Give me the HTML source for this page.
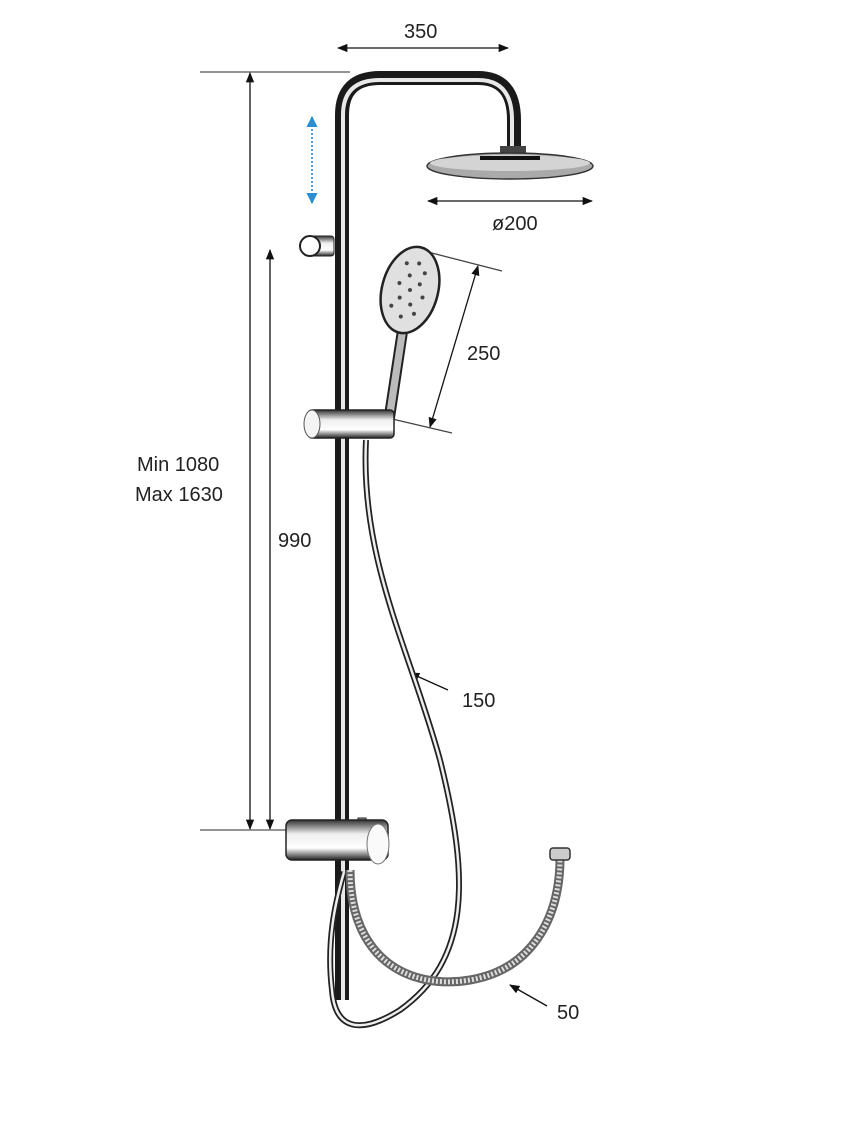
<!DOCTYPE html>
<html><head><meta charset="utf-8"><style>
html,body{margin:0;padding:0;background:#fff;}
svg{display:block;}
text{font-family:"Liberation Sans",sans-serif;font-size:20px;fill:#222;}
</style></head><body>
<svg width="867" height="1148" viewBox="0 0 867 1148" xmlns="http://www.w3.org/2000/svg">
<defs>
<marker id="a" viewBox="0 0 10 10" refX="9" refY="5" markerWidth="8" markerHeight="8" orient="auto-start-reverse"><path d="M0,1 L10,5 L0,9 z" fill="#111"/></marker>
<marker id="b" viewBox="0 0 10 10" refX="9" refY="5" markerWidth="7" markerHeight="7" orient="auto-start-reverse"><path d="M0,0 L10,5 L0,10 z" fill="#2a8fd0"/></marker>
<linearGradient id="cyl" x1="0" x2="0" y1="0" y2="1"><stop offset="0" stop-color="#333"/><stop offset="0.35" stop-color="#eee"/><stop offset="0.7" stop-color="#fff"/><stop offset="1" stop-color="#222"/></linearGradient>
</defs>
<g stroke="#111" stroke-width="1.3" fill="none">
<line x1="338" y1="48" x2="508" y2="48" marker-start="url(#a)" marker-end="url(#a)"/>
<line x1="200" y1="72" x2="350" y2="72" stroke="#555"/>
<line x1="250" y1="73" x2="250" y2="829" marker-start="url(#a)" marker-end="url(#a)"/>
<line x1="270" y1="250" x2="270" y2="829" marker-start="url(#a)" marker-end="url(#a)"/>
<line x1="200" y1="830" x2="292" y2="830" stroke="#555"/>
<line x1="428" y1="201" x2="592" y2="201" marker-start="url(#a)" marker-end="url(#a)"/>
<line x1="420" y1="250" x2="502" y2="271" stroke="#444"/>
<line x1="388" y1="418" x2="452" y2="433" stroke="#444"/>
<line x1="478" y1="266" x2="430" y2="427" marker-start="url(#a)" marker-end="url(#a)"/>
<line x1="448" y1="690" x2="410" y2="673" marker-end="url(#a)"/>
<line x1="547" y1="1006" x2="510" y2="985" marker-end="url(#a)"/>
</g>
<line x1="312" y1="117" x2="312" y2="203" stroke="#2a8fd0" stroke-width="1.6" stroke-dasharray="2,2" marker-start="url(#b)" marker-end="url(#b)"/>
<text x="404" y="38">350</text>
<text x="492" y="230">ø200</text>
<text x="467" y="360">250</text>
<text x="137" y="471">Min 1080</text>
<text x="135" y="501">Max 1630</text>
<text x="278" y="547">990</text>
<text x="462" y="707">150</text>
<text x="557" y="1019">50</text>
<path d="M342,1000 L342,115 Q342,78 380,78 L478,78 Q514,78 514,120 L514,150" stroke="#1a1a1a" stroke-width="14" fill="none"/>
<path d="M343,1000 L343,115 Q343,80 380,80 L478,80 Q512,80 512,120 L512,150" stroke="#e8e8e8" stroke-width="4" fill="none"/>
<rect x="500" y="146" width="26" height="12" fill="#444"/>
<ellipse cx="510" cy="166" rx="83" ry="13" fill="#aaa" stroke="#333" stroke-width="1.5"/>
<ellipse cx="510" cy="163" rx="80" ry="8" fill="#d4d4d4"/>
<path d="M480,158 L540,158" stroke="#111" stroke-width="4"/>
<rect x="304" y="236" width="30" height="20" rx="3" fill="url(#cyl)" stroke="#222"/>
<circle cx="310" cy="246" r="10" fill="#fff" stroke="#222" stroke-width="2"/>
<path d="M385,415 L398,330 L407,332 L394,418 z" fill="#bbb" stroke="#222" stroke-width="2"/>
<g transform="rotate(15 410 290)">
<ellipse cx="410" cy="290" rx="28" ry="44" fill="#e0e0e0" stroke="#222" stroke-width="2.5"/>
<g fill="#444">
<circle cx="400" cy="265" r="2"/><circle cx="412" cy="262" r="2"/><circle cx="420" cy="270" r="2"/><circle cx="406" cy="276" r="2"/><circle cx="418" cy="282" r="2"/><circle cx="398" cy="286" r="2"/><circle cx="410" cy="290" r="2"/><circle cx="424" cy="294" r="2"/><circle cx="402" cy="300" r="2"/><circle cx="414" cy="304" r="2"/><circle cx="396" cy="310" r="2"/><circle cx="420" cy="312" r="2"/><circle cx="408" cy="318" r="2"/>
</g></g>
<rect x="308" y="410" width="86" height="28" rx="4" fill="url(#cyl)" stroke="#222" stroke-width="1.5"/>
<ellipse cx="312" cy="424" rx="8" ry="14" fill="#f4f4f4" stroke="#555"/>
<path d="M366,440 C360,560 410,650 440,760 C470,880 470,960 400,1010 C360,1035 335,1030 332,990 C326,940 336,900 344,872" stroke="#222" stroke-width="6" fill="none"/>
<path d="M366,440 C360,560 410,650 440,760 C470,880 470,960 400,1010 C360,1035 335,1030 332,990 C326,940 336,900 344,872" stroke="#eee" stroke-width="2.5" fill="none"/>
<path d="M350,870 C350,960 410,990 470,980 C530,970 560,920 560,858" stroke="#666" stroke-width="9" fill="none"/>
<path d="M350,870 C350,960 410,990 470,980 C530,970 560,920 560,858" stroke="#ddd" stroke-width="5" fill="none" stroke-dasharray="2,2"/>
<rect x="550" y="848" width="20" height="12" rx="3" fill="#ccc" stroke="#333" stroke-width="1.5"/>
<rect x="358" y="818" width="8" height="22" fill="#999" stroke="#222"/>
<rect x="286" y="820" width="102" height="40" rx="6" fill="url(#cyl)" stroke="#222" stroke-width="1.5"/>
<ellipse cx="378" cy="844" rx="11" ry="20" fill="#fafafa" stroke="#777"/>
</svg>
</body></html>
